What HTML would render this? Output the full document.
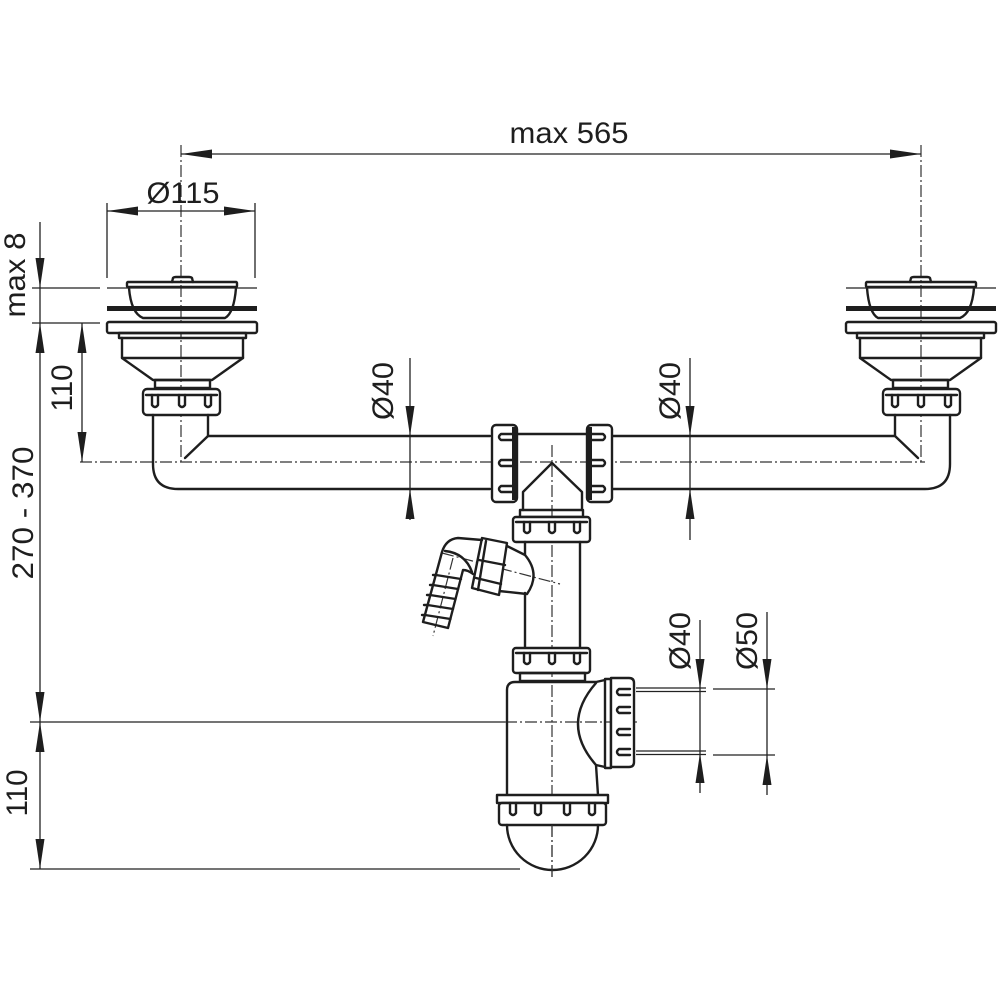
<!DOCTYPE html>
<html>
<head>
<meta charset="utf-8">
<style>
html,body{margin:0;padding:0;background:#fff;}
svg{display:block;}
text{font-family:"Liberation Sans",Arial,sans-serif;fill:#1e1e1e;font-size:30px;}
.o{fill:none;stroke:#1e1e1e;stroke-width:2.4;stroke-linejoin:round;stroke-linecap:round;}
.ow{fill:#fff;stroke:#1e1e1e;stroke-width:2.4;stroke-linejoin:round;}
.d{fill:none;stroke:#222;stroke-width:1.3;}
.c{fill:none;stroke:#333;stroke-width:1.2;stroke-dasharray:12 3 2 3;}
.a{fill:#1e1e1e;stroke:none;}
</style>
</head>
<body>
<svg width="1000" height="1000" viewBox="0 0 1000 1000" xmlns="http://www.w3.org/2000/svg">
<rect width="1000" height="1000" fill="#fff"/>

<!-- ===== centerlines ===== -->
<line class="c" x1="181" y1="145" x2="181" y2="462"/>
<line class="c" x1="921" y1="145" x2="921" y2="462"/>
<line class="c" x1="80" y1="462" x2="925" y2="462"/>
<line class="c" x1="552" y1="445" x2="552" y2="880"/>
<line class="c" x1="505" y1="722" x2="640" y2="722"/>
<line class="c" x1="442" y1="553" x2="560" y2="584"/>
<line class="c" x1="453" y1="558" x2="433" y2="636"/>

<!-- ===== dimension lines ===== -->
<!-- max 565 -->
<line class="d" x1="181" y1="154" x2="921" y2="154"/>
<polygon class="a" points="181,154 212,149.5 212,158.5"/>
<polygon class="a" points="921,154 890,149.5 890,158.5"/>
<text x="569" y="143" text-anchor="middle" textLength="119" lengthAdjust="spacingAndGlyphs">max 565</text>

<!-- Ø115 -->
<line class="d" x1="107" y1="203" x2="107" y2="278"/>
<line class="d" x1="255" y1="203" x2="255" y2="278"/>
<line class="d" x1="107" y1="211" x2="255" y2="211"/>
<polygon class="a" points="107,211 138,206.5 138,215.5"/>
<polygon class="a" points="255,211 224,206.5 224,215.5"/>
<text x="183" y="203" text-anchor="middle" textLength="73" lengthAdjust="spacingAndGlyphs">Ø115</text>

<!-- left vertical dims -->
<line class="d" x1="40" y1="222" x2="40" y2="869"/>
<line class="d" x1="32" y1="288" x2="100" y2="288"/>
<line class="d" x1="32" y1="323" x2="100" y2="323"/>
<polygon class="a" points="40,288 35.5,258 44.5,258"/>
<polygon class="a" points="40,323 35.5,353 44.5,353"/>
<polygon class="a" points="40,722 35.5,692 44.5,692"/>
<polygon class="a" points="40,722 35.5,752 44.5,752"/>
<polygon class="a" points="40,869 35.5,839 44.5,839"/>
<line class="d" x1="30" y1="722" x2="505" y2="722"/>
<line class="d" x1="30" y1="869" x2="520" y2="869"/>

<line class="d" x1="82" y1="323" x2="82" y2="462"/>
<polygon class="a" points="82,323 77.5,353 86.5,353"/>
<polygon class="a" points="82,462 77.5,432 86.5,432"/>

<text transform="translate(25,275) rotate(-90)" text-anchor="middle" textLength="85" lengthAdjust="spacingAndGlyphs">max 8</text>
<text transform="translate(72,388) rotate(-90)" text-anchor="middle" textLength="47" lengthAdjust="spacingAndGlyphs">110</text>
<text transform="translate(33,513) rotate(-90)" text-anchor="middle" textLength="133" lengthAdjust="spacingAndGlyphs">270 - 370</text>
<text transform="translate(27,793) rotate(-90)" text-anchor="middle" textLength="47" lengthAdjust="spacingAndGlyphs">110</text>

<!-- Ø40 pipe dims -->
<line class="d" x1="410" y1="358" x2="410" y2="520"/>
<polygon class="a" points="410,436 405.5,406 414.5,406"/>
<polygon class="a" points="410,489 405.5,519 414.5,519"/>
<text transform="translate(393,391) rotate(-90)" text-anchor="middle" textLength="58" lengthAdjust="spacingAndGlyphs">Ø40</text>

<line class="d" x1="690" y1="358" x2="690" y2="540"/>
<polygon class="a" points="690,436 685.5,406 694.5,406"/>
<polygon class="a" points="690,489 685.5,519 694.5,519"/>
<text transform="translate(680,391) rotate(-90)" text-anchor="middle" textLength="58" lengthAdjust="spacingAndGlyphs">Ø40</text>

<!-- trap outlet dims -->
<line class="d" x1="636" y1="688" x2="706" y2="688"/>
<line class="d" x1="636" y1="691.5" x2="706" y2="691.5"/>
<line class="d" x1="636" y1="751" x2="706" y2="751"/>
<line class="d" x1="636" y1="754.5" x2="706" y2="754.5"/>
<line class="d" x1="713" y1="689" x2="775" y2="689"/>
<line class="d" x1="713" y1="755" x2="775" y2="755"/>
<line class="d" x1="700" y1="620" x2="700" y2="793"/>
<polygon class="a" points="700,689 695.5,659 704.5,659"/>
<polygon class="a" points="700,753 695.5,783 704.5,783"/>
<line class="d" x1="767" y1="612" x2="767" y2="795"/>
<polygon class="a" points="767,689 762.5,659 771.5,659"/>
<polygon class="a" points="767,755 762.5,785 771.5,785"/>
<text transform="translate(690,641) rotate(-90)" text-anchor="middle" textLength="58" lengthAdjust="spacingAndGlyphs">Ø40</text>
<text transform="translate(757,641) rotate(-90)" text-anchor="middle" textLength="58" lengthAdjust="spacingAndGlyphs">Ø50</text>

<!-- ===== strainer + arm (left), mirrored for right ===== -->
<defs>
<g id="str">
  <path class="o" d="M172,282 L173,278 Q174,277 176,277 L189,277 Q191,277 192,278 L193,282"/>
  <rect class="o" x="127" y="282" width="110" height="5" rx="1"/>
  <path class="o" d="M129,288 Q131,313 143,318 L225,318 Q234,313 236,288"/>
  <line class="d" x1="107" y1="288" x2="257" y2="288"/>
  <line x1="107" y1="308.5" x2="257" y2="308.5" stroke="#1e1e1e" stroke-width="5"/>
  <rect class="ow" x="107" y="322" width="150" height="11" rx="2"/>
  <rect class="o" x="119" y="333" width="127" height="5"/>
  <path class="o" d="M122,338 L122,358 L153,380 L212,380 L243,358 L243,338"/>
  <line class="o" x1="122" y1="358" x2="243" y2="358"/>
  <rect class="o" x="155" y="380" width="55" height="8"/>
  <rect class="ow" x="143" y="389" width="77" height="26" rx="4"/>
  <line class="o" x1="146" y1="395" x2="217" y2="395"/>
  <path class="o" d="M152,395 L152,405 Q155,409 158,405 L158,395"/>
  <path class="o" d="M179,395 L179,405 Q182,409 185,405 L185,395"/>
  <path class="o" d="M205,395 L205,405 Q208,409 211,405 L211,395"/>
  <path class="o" d="M153,415 L153,464 Q153,489 178,489 L490,489"/>
  <path class="o" d="M208,415 L208,436 L490,436"/>
  <line class="o" x1="208" y1="436" x2="185" y2="458"/>
</g>
</defs>
<use href="#str"/>
<use href="#str" transform="matrix(-1,0,0,1,1103,0)"/>

<!-- ===== tee ===== -->
<line class="o" x1="517" y1="434" x2="587" y2="434"/>
<path class="o" d="M523,510 L523,492 L552,463 L582,492 L582,510"/>
<g id="cpl">
  <rect class="ow" x="492" y="425" width="25" height="77" rx="4"/>
  <line x1="514" y1="427" x2="514" y2="500" stroke="#1e1e1e" stroke-width="4"/>
  <path class="o" d="M512,434 L501,434 Q497,437 501,440 L512,440"/>
  <path class="o" d="M512,460 L501,460 Q497,463 501,466 L512,466"/>
  <path class="o" d="M512,486 L501,486 Q497,489 501,492 L512,492"/>
</g>
<use href="#cpl" transform="matrix(-1,0,0,1,1104,0)"/>

<rect class="o" x="520" y="510" width="63" height="7"/>
<rect class="ow" x="513" y="517" width="77" height="25" rx="3"/>
<line class="o" x1="516" y1="522" x2="587" y2="522"/>
<path class="o" d="M524,522 L524,531 Q527,535 530,531 L530,522"/>
<path class="o" d="M549,522 L549,531 Q552,535 555,531 L555,522"/>
<path class="o" d="M574,522 L574,531 Q577,535 580,531 L580,522"/>

<!-- vertical pipe -->
<line class="o" x1="525" y1="542" x2="525" y2="555"/>
<line class="o" x1="525" y1="593" x2="525" y2="648"/>
<line class="o" x1="580" y1="542" x2="580" y2="648"/>

<!-- side inlet -->
<path class="o" d="M507,546 L525,555 Q541,574 527,594 L499,591"/>
<path class="ow" d="M482,538 L507,543 L499,595 L472,588 Z"/>
<line class="o" x1="486" y1="541" x2="478" y2="590"/>
<line class="o" x1="479" y1="560" x2="505" y2="565"/>
<line class="o" x1="476" y1="578" x2="501" y2="584"/>
<path class="o" d="M482,540 L458,538 Q446,539 442,552 L423,622 L448,628 L463,570 Q468,570 473,574"/>
<path class="o" d="M445,551 Q465,553 472,572"/>
<path class="o" d="M433,575 L436,575 L461,579"/>
<path class="o" d="M430,585 L433,585 L458,589"/>
<path class="o" d="M427,595 L430,595 L455.5,599"/>
<path class="o" d="M424,605 L427.6,605 L453,609"/>
<path class="o" d="M422,615 L425,615 L450.5,619"/>

<!-- nut above trap -->
<rect class="ow" x="513" y="648" width="77" height="25" rx="3"/>
<line class="o" x1="516" y1="653" x2="587" y2="653"/>
<path class="o" d="M524,653 L524,662 Q527,666 530,662 L530,653"/>
<path class="o" d="M549,653 L549,662 Q552,666 555,662 L555,653"/>
<path class="o" d="M574,653 L574,662 Q577,666 580,662 L580,653"/>
<rect class="o" x="520" y="673" width="65" height="8"/>

<!-- bottle -->
<path class="o" d="M507,795 L507,690 Q507,682 515,682 L596,682 L605,680"/>
<path class="o" d="M605,767 L596,765 L598,795"/>
<path class="o" d="M596,683 Q560,724 596,765"/>
<rect class="o" x="605" y="679" width="6" height="89"/>
<path class="ow" d="M611,678 L629,678 Q634,678 634,683 L634,762 Q634,767 629,767 L611,767 Z"/>
<path class="o" d="M630,689 L619,689 Q615,692 619,695 L630,695"/>
<path class="o" d="M630,707 L619,707 Q615,710 619,713 L630,713"/>
<path class="o" d="M630,729 L619,729 Q615,732 619,735 L630,735"/>
<path class="o" d="M630,749 L619,749 Q615,752 619,755 L630,755"/>

<!-- bottom nut + cup -->
<rect class="ow" x="497" y="795" width="111" height="8" stroke-width="3"/>
<rect class="ow" x="499" y="803" width="107" height="22" rx="3"/>
<path class="o" d="M510,803 L510,813 Q513,817 516,813 L516,803"/>
<path class="o" d="M535,803 L535,813 Q538,817 541,813 L541,803"/>
<path class="o" d="M564,803 L564,813 Q567,817 570,813 L570,803"/>
<path class="o" d="M589,803 L589,813 Q592,817 595,813 L595,803"/>
<path class="o" d="M507,825 A45.5,45 0 0 0 598,825"/>
<line class="c" x1="552" y1="825" x2="552" y2="880"/>
</svg>
</body>
</html>
